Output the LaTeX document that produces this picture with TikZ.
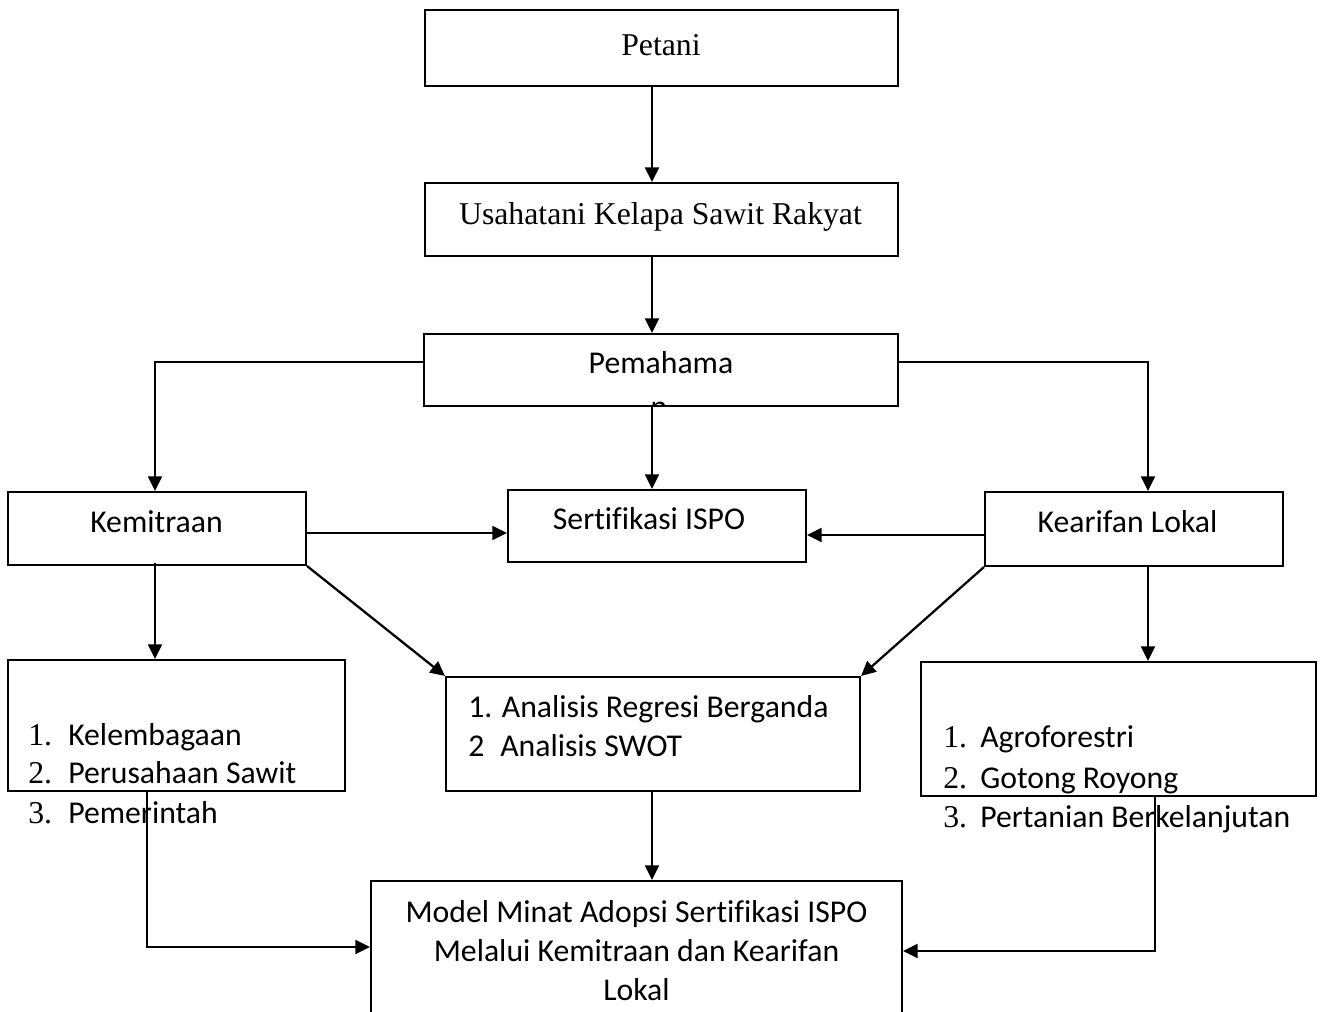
\documentclass[tikz,border=0pt]{standalone}
\usepackage{fontspec}
\setmainfont{Liberation Serif}
\newfontfamily\calfont[RawFeature={-liga;-clig;-calt;-dlig}]{Carlito}
\usetikzlibrary{arrows.meta,calc}
\begin{document}
\begin{tikzpicture}[x=0.75pt,y=-0.75pt,
  box/.style={draw, line width=1.5pt, inner sep=0pt, fill=none},
  arr/.style={line width=1.7pt, -{Triangle[length=11pt,width=10.5pt]}},
  seriftxt/.style={inner sep=0pt, font=\fontsize{23.8}{28}\selectfont},
  caltxt/.style={inner sep=0pt, font=\calfont\fontsize{23.8}{28}\selectfont}]
\useasboundingbox[fill=white] (0,0) rectangle (1322,1012);
% boxes
\node[box, minimum width=473*0.75pt, minimum height=76*0.75pt] (petani) at (661.5,48) {};
\node[box, minimum width=473*0.75pt, minimum height=73*0.75pt] (usaha) at (661.5,219.5) {};
\node[box, minimum width=474*0.75pt, minimum height=72*0.75pt] (pemah) at (661,370) {};
\node[box, minimum width=298*0.75pt, minimum height=73*0.75pt] (kemit) at (157,528.5) {};
\node[box, minimum width=298*0.75pt, minimum height=72*0.75pt] (sert) at (657,526) {};
\node[box, minimum width=298*0.75pt, minimum height=74*0.75pt] (kear) at (1134,529) {};
\node[box, minimum width=337*0.75pt, minimum height=131*0.75pt] (llist) at (176.5,725.5) {};
\node[box, minimum width=414*0.75pt, minimum height=114*0.75pt] (anal) at (653,734) {};
\node[box, minimum width=395*0.75pt, minimum height=134*0.75pt] (rlist) at (1118.5,729) {};
\node[box, minimum width=531*0.75pt, minimum height=140*0.75pt] (model) at (636.5,951) {};
% texts
\node[seriftxt, anchor=base] (tpetani) at (661,56) {Petani};
\node[seriftxt, anchor=base] (tusaha) at (660.5,225) {Usahatani Kelapa Sawit Rakyat};
\node[caltxt, anchor=base] (tpemah) at (661,374) {Pemahama};
\begin{scope}
\clip (600,401) rectangle (720,407);
\node[caltxt, anchor=base] (tpemahn) at (659,418) {n};
\end{scope}
\node[caltxt, anchor=base] (tkemit) at (156.5,533) {Kemitraan};
\node[caltxt, anchor=base] (tsert) at (649,530) {Sertifikasi ISPO};
\node[caltxt, anchor=base] (tkear) at (1127.5,533) {Kearifan Lokal};
% left list
\node[seriftxt, anchor=base west] (ln1) at (28,745) {1.};
\node[caltxt, anchor=base west] (lt1) at (68,745) {Kelembagaan};
\node[seriftxt, anchor=base west] (ln2) at (28,783) {2.};
\node[caltxt, anchor=base west] (lt2) at (68,783) {Perusahaan Sawit};
\node[seriftxt, anchor=base west] (ln3) at (28,823) {3.};
\node[caltxt, anchor=base west] (lt3) at (68,823) {Pemerintah};
% analysis
\node[caltxt, anchor=base west] (a1) at (468,717) {1. Analisis Regresi Berganda};
\node[caltxt, anchor=base west] (a2n) at (468,756) {2};
\node[caltxt, anchor=base west] (a2) at (500,756) {Analisis SWOT};
% right list
\node[seriftxt, anchor=base west] (rn1) at (943,747) {1.};
\node[caltxt, anchor=base west] (rt1) at (980,747) {Agroforestri};
\node[seriftxt, anchor=base west] (rn2) at (943,788) {2.};
\node[caltxt, anchor=base west] (rt2) at (980,788) {Gotong Royong};
\node[seriftxt, anchor=base west] (rn3) at (943,827) {3.};
\node[caltxt, anchor=base west] (rt3) at (980,827) {Pertanian Berkelanjutan};
% model
\node[caltxt, anchor=base] (m1) at (636.5,922) {Model Minat Adopsi Sertifikasi ISPO};
\node[caltxt, anchor=base] (m2) at (636.5,961) {Melalui Kemitraan dan Kearifan};
\node[caltxt, anchor=base] (m3) at (636.5,1000) {Lokal};
% connectors
\coordinate (c1) at ($(petani.south)+(-9.5,0)$);
\draw[arr] (c1) -- (c1 |- usaha.north);
\coordinate (c2) at ($(usaha.south)+(-9.5,0)$);
\draw[arr] (c2) -- (c2 |- pemah.north);
\coordinate (c3) at ($(pemah.west)+(0,-8)$);
\coordinate (c3b) at ($(kemit.north)+(-2,0)$);
\draw[arr] (c3) -| (c3b);
\coordinate (c4) at ($(pemah.east)+(0,-8)$);
\coordinate (c4b) at ($(kear.north)+(14,0)$);
\draw[arr] (c4) -| (c4b);
\coordinate (c5) at ($(pemah.south)+(-9,0)$);
\draw[arr] (c5) -- (c5 |- sert.north);
\coordinate (c6) at ($(kemit.east)+(0,4.5)$);
\draw[arr] (c6) -- (c6 -| sert.west);
\coordinate (c7) at ($(kear.west)+(0,6)$);
\draw[arr] (c7) -- (c7 -| sert.east);
\coordinate (c8) at ($(kemit.south)+(-2,-3)$);
\draw[arr] (c8) -- (c8 |- llist.north);
\draw[arr] (kemit.south east) -- (anal.north west);
\draw[arr] (kear.south west) -- (anal.north east);
\coordinate (c9) at ($(kear.south)+(14,0)$);
\draw[arr] (c9) -- (c9 |- rlist.north);
\coordinate (c10) at ($(anal.south)+(-1,0)$);
\draw[arr] (c10) -- (c10 |- model.north);
\coordinate (c11) at ($(llist.south)+(-29.5,0)$);
\coordinate (c11b) at ($(model.west)+(0,-4)$);
\draw[arr] (c11) |- (c11b);
\coordinate (c12) at ($(rlist.south)+(36.5,0)$);
\draw[arr] (c12) |- (model.east);
\end{tikzpicture}
\end{document}
